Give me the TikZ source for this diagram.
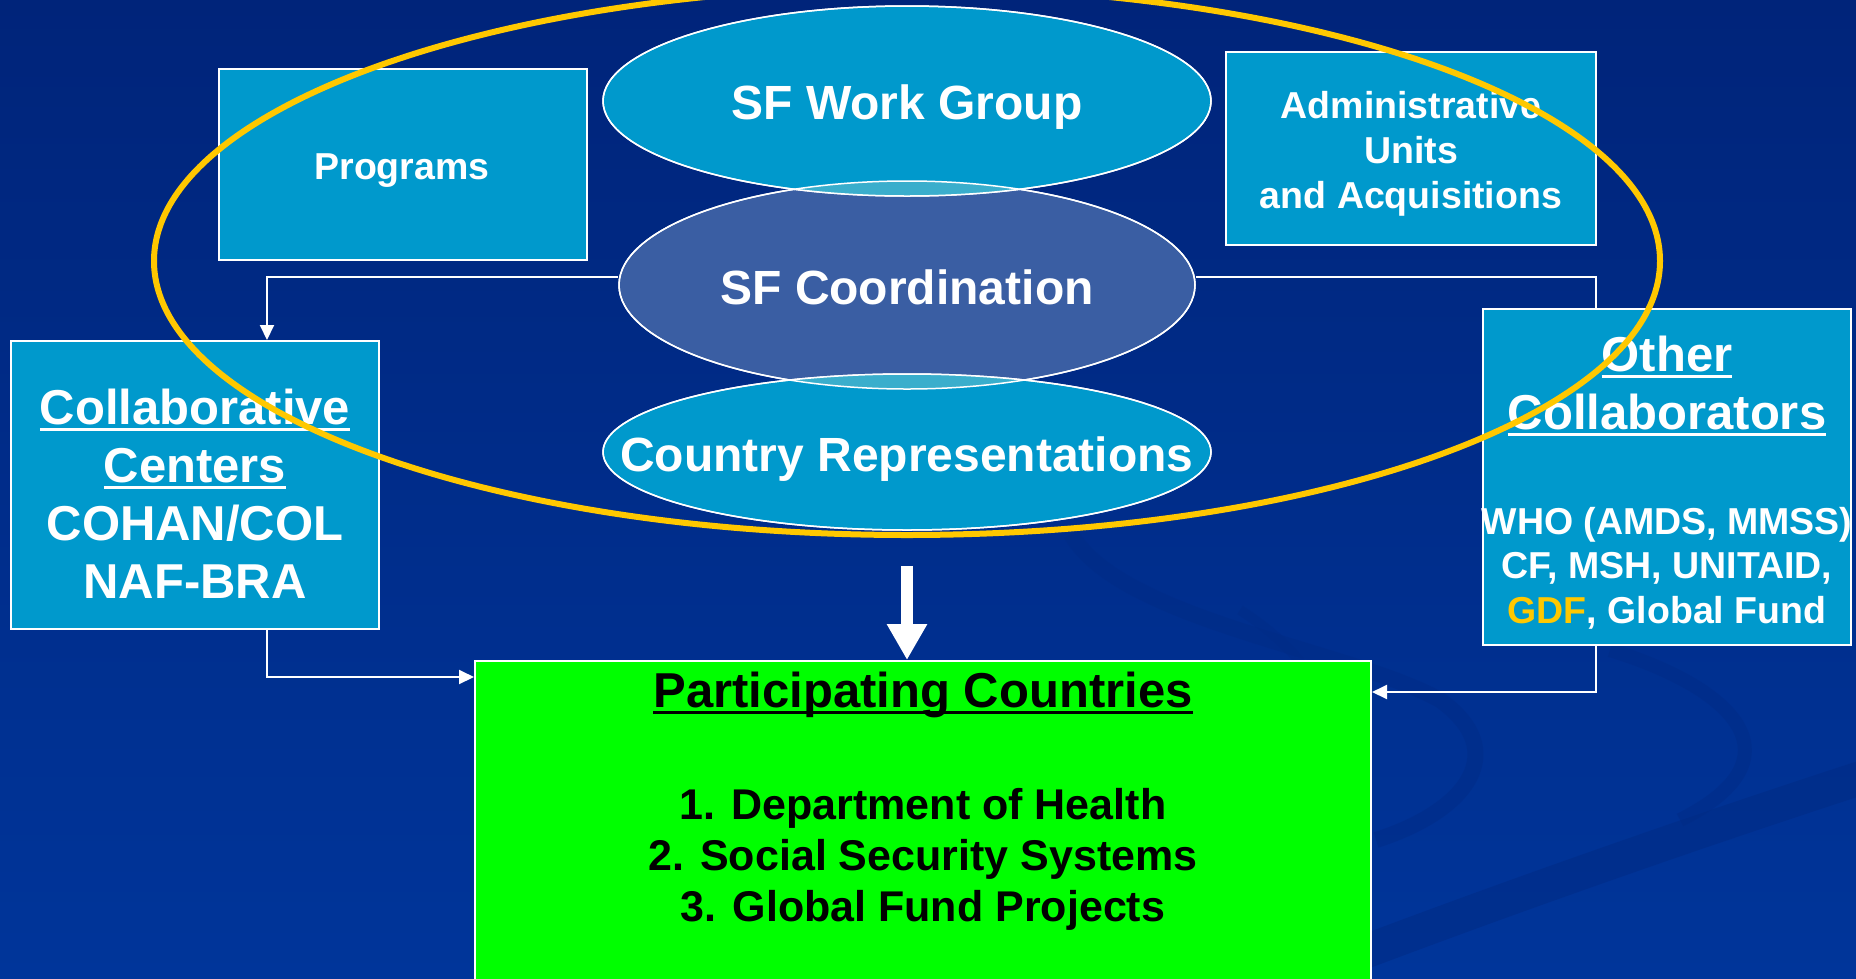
\documentclass[tikz,border=0pt]{standalone}
\usepackage{fontspec}
\setmainfont{Liberation Sans}
\usetikzlibrary{shapes.geometric,arrows.meta}
\definecolor{bgtop}{HTML}{00247A}
\definecolor{bgbot}{HTML}{00359A}
\definecolor{cyanbox}{HTML}{0099CC}
\definecolor{coordfill}{HTML}{3A5EA3}
\definecolor{lens}{HTML}{3AAECC}
\definecolor{gold}{HTML}{FFC800}
\definecolor{swoosh}{HTML}{002B85}
\definecolor{greenbox}{HTML}{00FF00}
\newsavebox{\myulbox}
\newcommand{\myul}[1]{\sbox{\myulbox}{#1}\rlap{\rule[-6pt]{\wd\myulbox}{3pt}}\usebox{\myulbox}}
\begin{document}
\begin{tikzpicture}[x=1pt,y=-1pt,
  box/.style={draw=white, line width=2pt, fill=cyanbox, inner sep=0pt},
  oval/.style={ellipse, draw=white, line width=1.5pt, fill=cyanbox, inner sep=0pt},
  conn/.style={draw=white, line width=2pt},
  tip/.style={-{Triangle[width=14pt,length=15pt]}},
  wtxt/.style={text=white, align=center, inner sep=0pt},
  big/.style={font=\bfseries\fontsize{48}{56}\selectfont},
  mid/.style={font=\bfseries\fontsize{49}{58}\selectfont},
  small/.style={font=\bfseries\fontsize{37.5}{45}\selectfont},
]
% background
\fill[top color=bgtop, bottom color=bgbot] (0,0) rectangle (1856,978);
\useasboundingbox (0,0) rectangle (1856,978);
% decorative swooshes
\draw[swoosh, line width=34pt, opacity=0.55] (1330,965) .. controls (1500,900) and (1700,830) .. (1870,775);
\draw[swoosh, line width=16pt, opacity=0.45] (1071,534) .. controls (1120,620) and (1350,650) .. (1440,700) .. controls (1510,750) and (1470,810) .. (1376,840);
\draw[swoosh, line width=14pt, opacity=0.45] (1610,650) .. controls (1740,690) and (1800,760) .. (1680,820);
\draw[swoosh, line width=10pt, opacity=0.4] (1240,610) .. controls (1380,700) and (1330,800) .. (1200,870);

% rectangular boxes
\node[box, minimum width=368pt, minimum height=191pt] (prog) at (403,164.5) {};
\node[box, minimum width=370pt, minimum height=193pt] (admin) at (1411,148.5) {};
\node[box, minimum width=368pt, minimum height=288pt] (collab) at (195,485) {};
\node[box, minimum width=368pt, minimum height=336pt] (other) at (1667,477) {};
\node[draw=white, line width=2pt, fill=greenbox, inner sep=0pt, minimum width=896pt, minimum height=340pt, anchor=north] (green) at (923,660) {};

% ellipses
\node[oval, fill=coordfill, minimum width=576pt, minimum height=208pt] (coord) at (907,285) {};
\node[oval, minimum width=608pt, minimum height=190pt] (work) at (907,101) {};
\node[oval, minimum width=608pt, minimum height=156pt] (country) at (907,452) {};
% lens overlaps
\begin{scope}
  \clip (907,101) ellipse [x radius=304pt, y radius=95pt];
  \fill[lens] (907,285) ellipse [x radius=288pt, y radius=104pt];
\end{scope}
\begin{scope}
  \clip (907,452) ellipse [x radius=304pt, y radius=78pt];
  \fill[lens] (907,285) ellipse [x radius=288pt, y radius=104pt];
\end{scope}
\draw[white, line width=1.5pt] (907,101) ellipse [x radius=304pt, y radius=95pt];
\draw[white, line width=1.5pt] (907,452) ellipse [x radius=304pt, y radius=78pt];
\draw[white, line width=1.5pt] (907,285) ellipse [x radius=288pt, y radius=104pt];

% ellipse texts
\node[wtxt, big] (worktxt) at (907,107) {SF Work Group};
\node[wtxt, big] (coordtxt) at (907,287) {SF Coordination};
\node[wtxt, big] (countrytxt) at (907,459) {Country Representations};

% box texts
\node[wtxt, small] (progtxt) at (402,171) {Programs};
\node[wtxt, small] (admintxt) at (1411,154) {Administrative\\Units\\and Acquisitions};
\node[wtxt, mid] (collabtxt) at (195,494) {\myul{Collaborative}\\\myul{Centers}\\COHAN/COL\\NAF-BRA};
\node[wtxt, mid] (othertxt) at (1667,386) {\myul{Other}\\\myul{Collaborators}};
\node[wtxt, font=\bfseries\fontsize{37.5}{44.5}\selectfont] (orgtxt) at (1667,568) {WHO (AMDS, MMSS)\\CF, MSH, UNITAID,\\\textcolor{gold}{GDF}, Global Fund};
\node[text=black, align=center, inner sep=0pt, mid] (parttxt) at (923,695) {\myul{Participating Countries}};
\node[text=black, align=center, inner sep=0pt, font=\bfseries\fontsize{43}{51}\selectfont] (listtxt) at (923,859) {1. Department of Health\\2. Social Security Systems\\3. Global Fund Projects};

% connectors
\coordinate (lc) at (267,277);
\coordinate (rc) at (1596,277);
\coordinate (lb) at (267,677);
\coordinate (rb) at (1596,692);
\draw[conn, tip] ([yshift=8pt]coord.west) -- (lc) -- (lc |- collab.north);
\draw[conn] ([yshift=8pt]coord.east) -- (rc) -- (rc |- other.north);
\draw[conn, tip] (lb |- collab.south) -- (lb) -- (lb -| green.west);
\draw[conn, tip] (rb |- other.south) -- (rb) -- (rb -| green.east);

% big arrow
\coordinate (arrtop) at (907,566);
\draw[white, line width=12pt, -{Triangle[width=38pt,length=36pt]}] (arrtop) -- (arrtop |- green.north);

% big yellow ellipse
\draw[gold, line width=6pt] (907,261) ellipse [x radius=753pt, y radius=274pt];
\end{tikzpicture}
\end{document}
